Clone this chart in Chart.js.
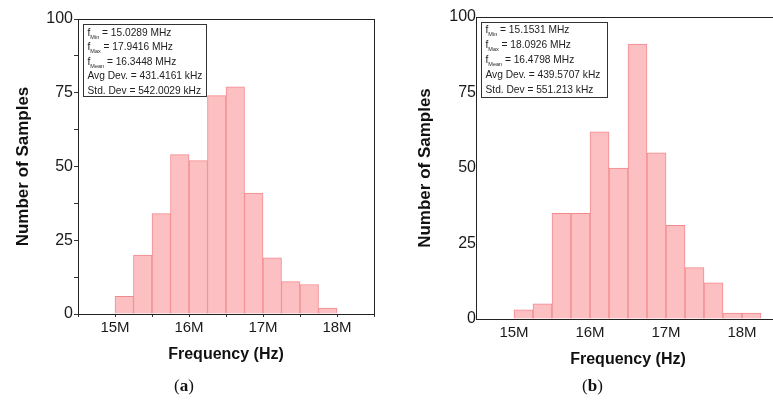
<!DOCTYPE html>
<html>
<head>
<meta charset="utf-8">
<script src="https://cdn.jsdelivr.net/npm/chart.js@4.4.1/dist/chart.umd.min.js"></script>
<style>
  html, body { margin: 0; padding: 0; background: #fff; overflow: hidden; }
  body { width: 773px; height: 403px; position: relative; }
  #wrapA { position: absolute; left: 0; top: 0; width: 390px; height: 403px; }
  #wrapB { position: absolute; left: 390px; top: 0; width: 400px; height: 403px; }
  .cap { position: absolute; top: 376px; font: 17px "Liberation Serif", "DejaVu Serif", serif; color: #111; }
  .cap b { font-weight: bold; }
</style>
</head>
<body>
<div id="wrapA"><canvas id="histA"></canvas></div>
<div id="wrapB"><canvas id="histB"></canvas></div>
<div class="cap" style="left:174px">(<b>a</b>)</div>
<div class="cap" style="left:582px">(<b>b</b>)</div>

<script>
// histogram bins (MHz), 0.25 MHz wide
const binStartsA = [15.0, 15.25, 15.5, 15.75, 16.0, 16.25, 16.5, 16.75, 17.0, 17.25, 17.5, 17.75];
const countsA    = [6, 20, 34, 54, 52, 74, 77, 41, 19, 11, 10, 2];

const binStartsB = [15.0, 15.25, 15.5, 15.75, 16.0, 16.25, 16.5, 16.75, 17.0, 17.25, 17.5, 17.75, 18.0];
const countsB    = [3, 5, 35, 35, 62, 50, 91, 55, 31, 17, 12, 2, 2];

const binWidth = 0.25;
const xTicks = [15, 16, 17, 18];
const yTicks = [0, 25, 50, 75, 100];

// stats box lines: [symbol, subscript, rest]
const statsA = [
  ['f', 'Min', ' = 15.0289 MHz'],
  ['f', 'Max', ' = 17.9416 MHz'],
  ['f', 'Mean', ' = 16.3448 MHz'],
  ['', '', 'Avg Dev. = 431.4161 kHz'],
  ['', '', 'Std. Dev = 542.0029 kHz']
];
const statsB = [
  ['f', 'Min', ' = 15.1531 MHz'],
  ['f', 'Max', ' = 18.0926 MHz'],
  ['f', 'Mean', ' = 16.4798 MHz'],
  ['', '', 'Avg Dev. = 439.5707 kHz'],
  ['', '', 'Std. Dev = 551.213 kHz']
];

const FONT = '"Liberation Sans", Arial, sans-serif';

// frame around the plot area + stats box
const framePlugin = {
  id: 'frame',
  afterDraw(chart, args, opts) {
    const ctx = chart.ctx;
    const a = chart.chartArea;
    ctx.save();
    ctx.strokeStyle = '#222';
    ctx.lineWidth = 1;
    ctx.strokeRect(Math.round(a.left) + 0.5, Math.round(a.top) + 0.5,
      Math.round(a.right - a.left), Math.round(a.bottom - a.top));

    const bx = Math.round(a.left + opts.box.x) + 0.5;
    const by = Math.round(a.top + opts.box.y) + 0.5;
    ctx.fillStyle = '#fff';
    ctx.fillRect(bx, by, opts.box.w, opts.box.h);
    ctx.strokeStyle = '#333';
    ctx.strokeRect(bx, by, opts.box.w, opts.box.h);

    ctx.fillStyle = '#222';
    ctx.textBaseline = 'alphabetic';
    opts.lines.forEach((ln, i) => {
      let x = bx + 4;
      const y = by + opts.firstBase + i * opts.lineGap;
      ctx.font = '10.2px ' + FONT;
      if (ln[0]) {
        ctx.fillText(ln[0], x, y);
        x += ctx.measureText(ln[0]).width;
        ctx.font = '5.5px ' + FONT;
        ctx.fillText(ln[1], x, y + 3);
        x += ctx.measureText(ln[1]).width;
        ctx.font = '10.2px ' + FONT;
      }
      ctx.fillText(ln[2], x, y);
    });
    ctx.restore();
  }
};

function makeHist(id, starts, counts, cfg) {
  const points = starts.map((s, i) => ({ x: s + binWidth / 2, y: counts[i] }));
  const ticksOn = cfg.ticks;
  return new Chart(document.getElementById(id), {
    type: 'bar',
    data: {
      datasets: [{
        data: points,
        backgroundColor: '#fcc0c3',
        borderColor: '#f4898d',
        borderWidth: 1,
        barPercentage: 1,
        categoryPercentage: 1
      }]
    },
    options: {
      responsive: true,
      maintainAspectRatio: false,
      animation: false,
      layout: { padding: cfg.padding },
      plugins: {
        legend: { display: false },
        tooltip: { enabled: false },
        frame: { box: cfg.box, lines: cfg.lines, firstBase: cfg.firstBase, lineGap: cfg.lineGap }
      },
      scales: {
        x: {
          type: 'linear',
          min: 14.5,
          max: 18.5,
          offset: false,
          afterBuildTicks: s => {
            s.ticks = [];
            for (let v = 14.5; v <= 18.5001; v += 0.5) s.ticks.push({ value: v });
          },
          afterFit: s => { s.height = 50; },
          border: { display: true, color: '#222', width: 1 },
          grid: {
            offset: false,
            drawOnChartArea: false,
            drawTicks: ticksOn,
            tickLength: 3,
            tickColor: '#333'
          },
          ticks: {
            autoSkip: false,
            maxRotation: 0,
            padding: ticksOn ? 2 : 5,
            color: '#1a1a1a',
            font: { family: FONT, size: 15 },
            callback: v => (xTicks.includes(v) ? v + 'M' : '')
          },
          title: {
            display: true,
            text: 'Frequency (Hz)',
            color: '#111',
            font: { family: FONT, size: 16, weight: 'bold' },
            padding: { top: 0, bottom: 0 }
          }
        },
        y: {
          min: 0,
          max: 100,
          afterBuildTicks: s => {
            s.ticks = [];
            for (let v = 0; v <= 100; v += 12.5) s.ticks.push({ value: v });
          },
          afterFit: s => { s.width = cfg.yWidth; },
          border: { display: true, color: '#222', width: 1 },
          grid: {
            drawOnChartArea: false,
            drawTicks: ticksOn,
            tickLength: 4,
            tickColor: '#333'
          },
          ticks: {
            autoSkip: false,
            padding: ticksOn ? 1 : 0,
            color: '#1a1a1a',
            font: { family: FONT, size: 16 },
            callback: v => (yTicks.includes(v) ? String(v) : '')
          },
          title: {
            display: true,
            text: 'Number of Samples',
            color: '#111',
            font: { family: FONT, size: 17, weight: 'bold' },
            padding: { top: cfg.yTitlePad, bottom: 0 }
          }
        }
      }
    },
    plugins: [framePlugin]
  });
}

makeHist('histA', binStartsA, countsA, {
  ticks: true,
  yWidth: 78,
  yTitlePad: 13,
  padding: { left: 0, right: 16, top: 19, bottom: 39 },
  box: { x: 5, y: 5, w: 123, h: 72 },
  lines: statsA,
  firstBase: 11,
  lineGap: 14.6
});

makeHist('histB', binStartsB, countsB, {
  ticks: false,
  yWidth: 86,
  yTitlePad: 25,
  padding: { left: 0, right: 10, top: 17, bottom: 34 },
  box: { x: 5, y: 5, w: 126, h: 75 },
  lines: statsB,
  firstBase: 10,
  lineGap: 15
});
</script>
</body>
</html>
